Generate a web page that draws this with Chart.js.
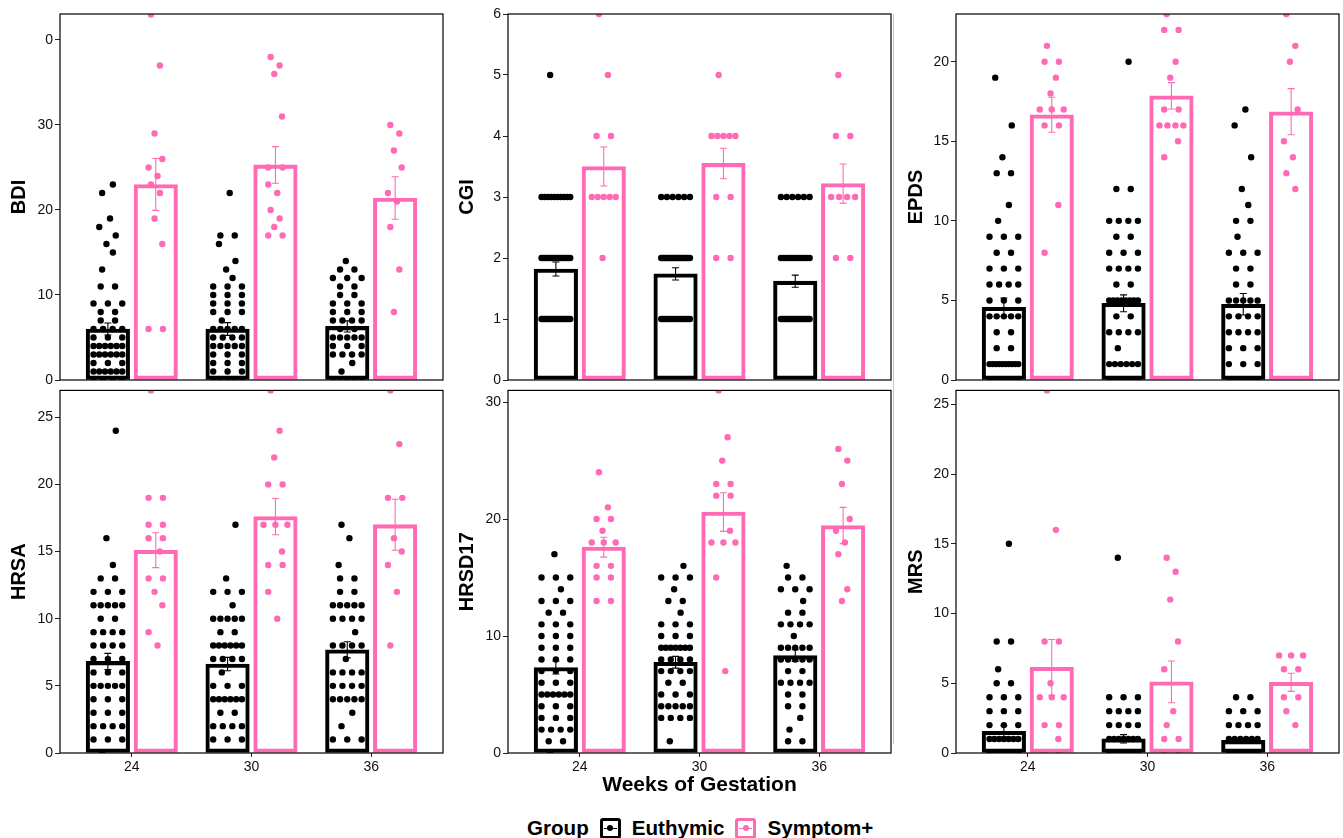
<!DOCTYPE html>
<html>
<head>
<meta charset="utf-8">
<script src="https://cdn.jsdelivr.net/npm/chart.js@4.4.1/dist/chart.umd.min.js"></script>
<style>
body { margin: 0; background: #fff; width: 1343px; height: 838px; position: relative; overflow: hidden; font-family: "Liberation Sans", Arial, sans-serif; }
canvas { position: absolute; }
#divider { position: absolute; left: 893px; top: 14px; width: 1px; height: 730px; background: #c8c8c8; }
#legend { position: absolute; left: 527px; top: 816px; display: flex; align-items: center; font-weight: bold; font-size: 20.6px; color: #000; white-space: nowrap; }
.key { width: 15px; height: 15px; border: 3px solid; border-radius: 3px; position: relative; margin: 0 11px; }
.key::before { content: ""; position: absolute; left: 1px; right: 1px; top: 7px; height: 1px; background: currentColor; }
.key::after { content: ""; position: absolute; left: 4.5px; top: 4.5px; width: 6px; height: 6px; border-radius: 50%; background: currentColor; }
</style>
</head>
<body>
<div id="divider"></div>
<div id="legend">
  <span>Group</span>
  <span class="key" style="color:#000"></span><span>Euthymic</span>
  <span class="key" style="color:#ff6ab4"></span><span>Symptom+</span>
</div>
<script>
const weeks = ['24', '30', '36'];
const measures = ['BDI', 'CGI', 'EPDS', 'HRSA', 'HRSD17', 'MRS'];

// bar heights (group means) per measure, weeks 24/30/36
const euthymicMeans = [
  [6.0, 6.0, 6.3], [1.82, 1.74, 1.62], [4.57, 4.82, 4.76],
  [6.82, 6.62, 7.68], [7.31, 7.76, 8.33], [1.55, 1.02, 0.9]
];
const euthymicSE = [
  [0.7, 0.75, 0.65], [0.115, 0.1, 0.1], [0.58, 0.53, 0.68],
  [0.6, 0.5, 0.6], [0.55, 0.5, 0.5], [0.4, 0.3, 0.15]
];
const symptomMeans = [
  [23.0, 25.3, 21.4], [3.5, 3.55, 3.22], [16.67, 17.86, 16.86],
  [15.1, 17.6, 17.0], [17.6, 20.6, 19.45], [6.14, 5.1, 5.07]
];
const symptomSE = [
  [3.05, 2.15, 2.5], [0.32, 0.25, 0.32], [1.1, 0.83, 1.45],
  [1.3, 1.35, 1.9], [0.85, 1.65, 1.55], [2.0, 1.5, 0.65]
];

// individual scores
const bdiEuthymic = [
  [0,0,0,0,1,1,1,1,1,1,2,2,2,3,3,3,3,3,3,4,4,4,4,4,4,5,5,5,6,6,6,6,7,7,8,8,9,9,9,11,11,13,15,16,17,18,19,22,23],
  [0,0,0,0,0,1,1,1,2,2,2,3,3,3,4,4,4,4,4,5,5,5,5,6,6,6,6,6,7,8,8,8,9,9,9,10,10,10,11,11,11,12,13,14,16,17,17,22],
  [0,0,0,0,0,1,2,3,3,3,3,4,4,4,5,5,5,5,5,6,6,7,7,7,7,8,8,8,9,9,9,10,10,11,11,12,12,12,13,13,14]
];
const bdiSymptom = [
  [43,37,29,26,25,24,23,22,19,16,6,6],
  [38,37,36,31,25,25,23,22,20,19,18,17,17],
  [30,29,27,25,22,21,18,13,8]
];
const cgiEuthymic = [
  [1,1,1,1,1,1,1,1,1,1,1,1,1,1,1,1,1,1,1,1,2,2,2,2,2,2,2,2,2,2,2,2,2,2,2,2,3,3,3,3,3,3,3,3,3,3,5],
  [1,1,1,1,1,1,1,1,1,1,1,1,1,1,1,2,2,2,2,2,2,2,2,2,2,2,2,2,2,2,2,2,2,2,2,3,3,3,3,3,3],
  [1,1,1,1,1,1,1,1,1,1,1,1,1,1,1,1,1,1,2,2,2,2,2,2,2,2,2,2,2,2,3,3,3,3,3,3]
];
const cgiSymptom = [
  [6,5,4,4,3,3,3,3,3,2],
  [5,4,4,4,4,4,3,3,2,2],
  [5,4,4,3,3,3,3,2,2]
];
const epdsEuthymic = [
  [0,0,0,0,0,0,0,0,1,1,1,1,1,1,1,1,1,1,2,2,3,3,4,4,4,4,4,5,5,5,6,6,6,6,7,7,7,8,8,9,9,9,10,11,13,13,14,16,19],
  [0,0,0,0,0,0,0,0,1,1,1,1,1,1,2,3,3,3,3,4,4,5,5,5,5,5,5,5,5,6,6,7,7,7,7,8,8,8,9,9,10,10,10,10,12,12,20],
  [0,0,0,0,0,0,0,0,0,1,1,1,2,2,2,3,3,3,3,4,4,4,4,5,5,5,5,5,6,6,7,7,8,8,8,9,10,10,11,12,14,16,17]
];
const epdsSymptom = [
  [21,20,20,19,18,17,17,17,16,16,11,8],
  [23,22,22,20,19,17,17,16,16,16,16,15,14],
  [23,21,20,17,15,14,13,12]
];
const hrsaEuthymic = [
  [0,1,1,1,2,2,2,2,3,3,3,4,4,4,5,5,5,5,5,6,6,6,7,7,7,8,8,8,8,9,9,9,9,10,10,11,11,11,11,11,12,12,12,13,13,14,16,24],
  [1,1,1,2,2,2,2,3,3,4,4,4,4,4,4,5,5,5,6,7,7,7,7,8,8,8,8,8,8,9,9,10,10,10,10,10,11,12,12,12,13,17],
  [1,1,1,2,3,4,4,4,4,4,5,5,5,5,6,6,6,6,7,8,8,8,8,9,10,10,10,10,11,11,11,11,11,12,12,13,13,14,16,17]
];
const hrsaSymptom = [
  [27,19,19,17,17,16,16,15,13,13,12,11,9,8],
  [27,24,22,20,20,17,17,17,15,14,14,12,10],
  [27,23,19,19,16,15,14,12,8]
];
const hrsdEuthymic = [
  [0,1,1,2,2,2,2,3,3,3,4,4,4,5,5,5,5,5,5,6,6,6,7,7,7,8,8,8,9,9,9,10,10,10,11,11,11,12,12,13,13,13,14,15,15,15,17],
  [1,3,3,3,3,4,4,4,4,4,5,5,5,6,6,7,7,7,7,8,8,8,8,9,9,9,9,9,9,9,10,10,10,11,11,11,12,13,13,14,15,15,15,16],
  [1,1,2,3,4,4,5,5,6,6,6,6,7,7,8,8,8,8,8,9,9,9,9,9,10,11,11,11,11,12,12,13,14,14,14,15,15,16]
];
const hrsdSymptom = [
  [24,21,20,20,19,18,18,18,16,16,15,15,13,13],
  [31,27,25,23,23,22,22,19,18,18,18,15,7],
  [26,25,23,20,19,18,17,14,13]
];
const mrsEuthymic = [
  [0,0,0,0,0,0,0,0,0,0,0,0,0,0,0,0,0,0,0,0,0,0,0,0,0,0,0,0,1,1,1,1,1,1,1,2,2,2,3,3,3,4,4,4,5,5,6,8,8,15],
  [0,0,0,0,0,0,0,0,0,0,0,0,0,0,0,0,0,0,0,0,0,0,0,0,0,0,0,0,0,0,0,1,1,1,1,1,1,1,2,2,2,2,3,3,3,3,4,4,4,14],
  [0,0,0,0,0,0,0,0,0,0,0,0,0,0,0,0,0,0,0,1,1,1,1,1,1,2,2,2,2,3,3,3,4,4]
];
const mrsSymptom = [
  [26,16,8,8,5,4,4,4,2,2,1,0,0],
  [14,13,11,8,6,3,2,1,1,0,0],
  [7,7,7,6,6,4,4,3,2]
];

const euthymicScores = [bdiEuthymic, cgiEuthymic, epdsEuthymic, hrsaEuthymic, hrsdEuthymic, mrsEuthymic];
const symptomScores = [bdiSymptom, cgiSymptom, epdsSymptom, hrsaSymptom, hrsdSymptom, mrsSymptom];

const BLACK = '#000000';
const PINK = '#ff6ab4';
const FONT = '"Liberation Sans", Arial, sans-serif';

// y axis ranges per panel
const yMax = [43.05, 6, 23, 27, 31, 26];
const yStep = [10, 1, 5, 5, 10, 5];

// spread tied scores sideways inside the bar
function jitterPoints(byWeek, shift, halfWidth) {
    const pts = [];
    byWeek.forEach((scores, w) => {
        const counts = {};
        scores.forEach(v => counts[v] = (counts[v] || 0) + 1);
        const seen = {};
        let single = 0;
        scores.forEach(v => {
            const n = counts[v];
            const k = seen[v] = (seen[v] === undefined ? 0 : seen[v] + 1);
            let off;
            if (n === 1) {
                off = [-0.4, 0.35, -0.1, 0.55, -0.6, 0.15][single++ % 6] * halfWidth;
            } else {
                const step = Math.min(0.12, 2 * halfWidth / (n - 1));
                off = (k - (n - 1) / 2) * step;
            }
            pts.push({ x: w + 1 + shift + off, y: v });
        });
    });
    return pts;
}

const errorBars = {
    id: 'errorBars',
    afterDatasetsDraw(chart, args, opts) {
        const { ctx, chartArea, scales: { x, y } } = chart;
        ctx.save();
        ctx.beginPath();
        ctx.rect(chartArea.left, chartArea.top, chartArea.width, chartArea.height);
        ctx.clip();
        for (const s of opts.sets) {
            ctx.strokeStyle = s.color;
            ctx.lineWidth = 1.1;
            s.means.forEach((m, i) => {
                const px = x.getPixelForValue(i + 1 + s.shift);
                const lo = y.getPixelForValue(m - s.se[i]);
                const hi = y.getPixelForValue(m + s.se[i]);
                ctx.beginPath();
                ctx.moveTo(px, lo); ctx.lineTo(px, hi);
                ctx.moveTo(px - 3.5, lo); ctx.lineTo(px + 3.5, lo);
                ctx.moveTo(px - 3.5, hi); ctx.lineTo(px + 3.5, hi);
                ctx.stroke();
            });
        }
        ctx.restore();
    }
};

const frame = {
    id: 'frame',
    afterDraw(chart) {
        const { ctx, chartArea: a } = chart;
        ctx.save();
        ctx.strokeStyle = '#000';
        ctx.lineWidth = 1.2;
        ctx.strokeRect(a.left, a.top, a.right - a.left, a.bottom - a.top);
        ctx.restore();
    }
};

const colLeft = [0, 447, 895];
const colWidth = [447, 448, 448];
const padLeft = [7.5, 8, 9];
const padRight = [2, 3, 3];
const plotLeft = [60, 508, 956];

function makePanel(m) {
    const col = m % 3;
    const bottomRow = m >= 3;
    const top = bottomRow ? 380 : 0;
    const height = bottomRow ? 420 : 392;
    const canvas = document.createElement('canvas');
    canvas.width = colWidth[col];
    canvas.height = height;
    canvas.style.left = colLeft[col] + 'px';
    canvas.style.top = top + 'px';
    canvas.style.width = colWidth[col] + 'px';
    canvas.style.height = height + 'px';
    document.body.appendChild(canvas);

    const axisW = plotLeft[col] - colLeft[col] - padLeft[col];
    const axisH = bottomRow ? 47 : 12;

    new Chart(canvas, {
        type: 'bar',
        data: {
            datasets: [
                {
                    type: 'bar', label: 'Euthymic',
                    data: euthymicMeans[m].map((v, i) => ({ x: i + 1 - 0.2, y: v })),
                    backgroundColor: 'rgba(255,255,255,0)', borderColor: BLACK,
                    borderWidth: 3.4, borderSkipped: false, barThickness: 43.5,
                    grouped: false, order: 2
                },
                {
                    type: 'bar', label: 'Symptom+',
                    data: symptomMeans[m].map((v, i) => ({ x: i + 1 + 0.2, y: v })),
                    backgroundColor: 'rgba(255,255,255,0)', borderColor: PINK,
                    borderWidth: 3.4, borderSkipped: false, barThickness: 43.5,
                    grouped: false, order: 2
                },
                {
                    type: 'scatter', label: 'Euthymic points',
                    data: jitterPoints(euthymicScores[m], -0.2, 0.12),
                    backgroundColor: BLACK, borderWidth: 0, pointRadius: 3.2, order: 1
                },
                {
                    type: 'scatter', label: 'Symptom+ points',
                    data: jitterPoints(symptomScores[m], 0.2, 0.1),
                    backgroundColor: PINK, borderWidth: 0, pointRadius: 3.2, order: 1
                }
            ]
        },
        options: {
            responsive: false,
            animation: false,
            events: [],
            layout: { padding: { left: padLeft[col], right: padRight[col], top: bottomRow ? 7 : 14, bottom: 0 } },
            plugins: {
                legend: { display: false },
                tooltip: { enabled: false },
                errorBars: {
                    sets: [
                        { means: euthymicMeans[m], se: euthymicSE[m], shift: -0.2, color: BLACK },
                        { means: symptomMeans[m], se: symptomSE[m], shift: 0.2, color: PINK }
                    ]
                }
            },
            scales: {
                x: {
                    type: 'linear', min: 0.4, max: 3.6, offset: false,
                    grid: { display: bottomRow, drawOnChartArea: false, offset: false, tickLength: 4, color: '#222', lineWidth: 1 },
                    border: { display: false },
                    ticks: {
                        display: bottomRow, color: '#111', padding: 2,
                        font: { family: FONT, size: 14 },
                        callback: v => weeks[Math.round(v) - 1]
                    },
                    afterBuildTicks: s => { s.ticks = weeks.map((w, i) => ({ value: i + 1 })); },
                    afterFit: s => { s.height = axisH; },
                    title: {
                        display: m === 4, text: 'Weeks of Gestation', color: '#000',
                        font: { family: FONT, size: 21, weight: 'bold' },
                        padding: { top: 2, bottom: 2 }
                    }
                },
                y: {
                    min: 0, max: yMax[m],
                    grid: { drawOnChartArea: false, tickLength: 5, color: '#222', lineWidth: 1 },
                    border: { display: false },
                    ticks: {
                        stepSize: yStep[m], includeBounds: false, color: '#111', padding: 2,
                        font: { family: FONT, size: 14 },
                        callback: v => (m === 0 && v === 40) ? '0' : String(v)
                    },
                    afterFit: s => { s.width = axisW; },
                    title: {
                        display: true, text: measures[m], color: '#000',
                        font: { family: FONT, size: 20, weight: 'bold' },
                        padding: { top: 0, bottom: 0 }
                    }
                }
            }
        },
        plugins: [errorBars, frame]
    });
}

measures.forEach((name, m) => makePanel(m));
</script>
</body>
</html>
